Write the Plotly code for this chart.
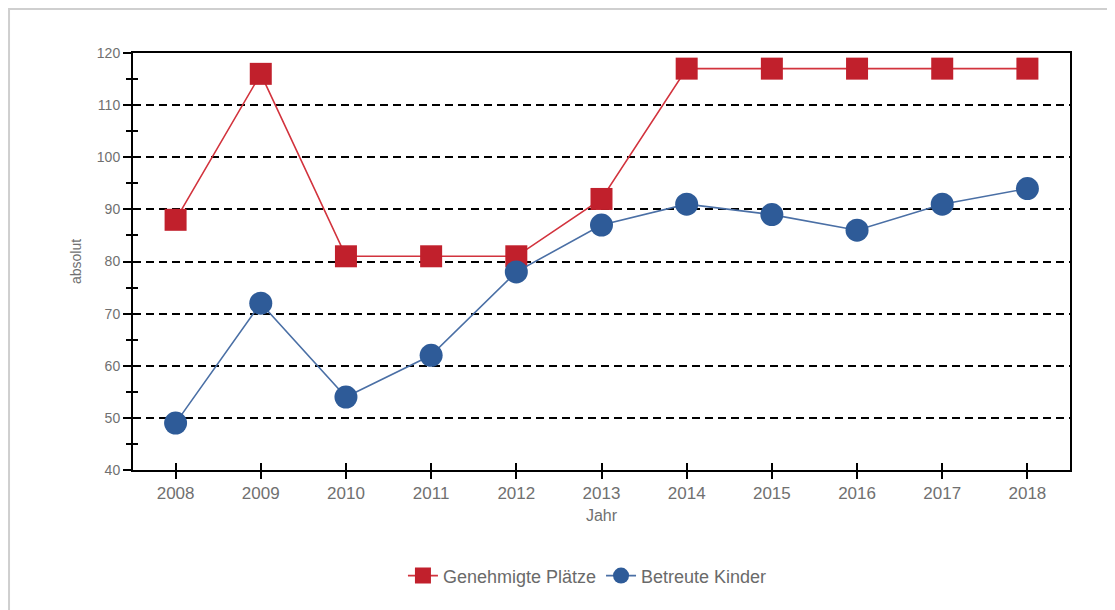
import plotly.graph_objects as go

years = ["2008", "2009", "2010", "2011", "2012", "2013", "2014", "2015", "2016", "2017", "2018"]
genehmigte = [88, 116, 81, 81, 81, 92, 117, 117, 117, 117, 117]
betreute = [49, 72, 54, 62, 78, 87, 91, 89, 86, 91, 94]
y_ticks = [40, 50, 60, 70, 80, 90, 100, 110, 120]
y_minor = [45, 55, 65, 75, 85, 95, 105, 115]

RED = "#C1202C"
BLUE = "#2E5B98"
GRAY = "#707070"
FONT = "Liberation Sans, Arial, sans-serif"

fig = go.Figure()
fig.add_trace(go.Scatter(
    x=years, y=genehmigte, name="Genehmigte Plätze", mode="lines+markers",
    line=dict(color="#D2333D", width=1.6),
    marker=dict(symbol="square", size=22, color=RED),
))
fig.add_trace(go.Scatter(
    x=years, y=betreute, name="Betreute Kinder", mode="lines+markers",
    line=dict(color="#4A6FA5", width=1.6),
    marker=dict(symbol="circle", size=23, color=BLUE),
))
# invisible trace to activate overlay axes (inside-tick halves)
fig.add_trace(go.Scatter(x=years, y=genehmigte, xaxis="x2", yaxis="y2",
                         mode="none", showlegend=False, hoverinfo="skip"))

fig.update_layout(
    width=1115, height=610,
    margin=dict(l=125, r=53, t=45, b=148),
    paper_bgcolor="white", plot_bgcolor="white",
    font=dict(family=FONT, size=14, color=GRAY),
    showlegend=True,
    legend=dict(orientation="h", x=0.485, xanchor="center", y=-0.254, yanchor="middle",
                font=dict(size=18, color="#6a6a6a")),
    xaxis=dict(
        type="category", range=[-0.5, 10.5],
        showline=True, linecolor="black", linewidth=2, mirror=True,
        ticks="outside", ticklen=7, tickwidth=2, tickcolor="black",
        showgrid=False, zeroline=False,
        tickfont=dict(size=17, color=GRAY),
        title=dict(text="Jahr", font=dict(size=16, color=GRAY), standoff=7),
    ),
    yaxis=dict(
        range=[40, 120], tickvals=y_ticks,
        showline=True, linecolor="black", linewidth=2, mirror=True,
        ticks="outside", ticklen=8, tickwidth=2, tickcolor="black",
        minor=dict(ticks="outside", ticklen=5, tickwidth=2, tickcolor="black",
                   tickvals=y_minor, showgrid=False),
        showgrid=True, gridcolor="black", gridwidth=2, griddash="8px,5px",
        zeroline=False,
        tickfont=dict(size=14, color=GRAY),
        title=dict(text="absolut", font=dict(size=14, color=GRAY), standoff=12),
    ),
    xaxis2=dict(
        type="category", range=[-0.5, 10.5], overlaying="x", anchor="y2",
        ticks="inside", ticklen=7, tickwidth=2, tickcolor="black",
        showticklabels=False, showgrid=False, zeroline=False, showline=False,
        categoryarray=years,
    ),
    yaxis2=dict(
        range=[40, 120], overlaying="y", anchor="x2",
        tickvals=[], showticklabels=False, showgrid=False, zeroline=False, showline=False,
        minor=dict(ticks="inside", ticklen=5, tickwidth=2, tickcolor="black",
                   tickvals=y_minor, showgrid=False),
    ),
    shapes=[dict(type="rect", xref="paper", yref="paper",
                 x0=-0.1323, x1=1.07, y0=-0.40, y1=1.1055,
                 line=dict(color="#cfcfcf", width=2), layer="below")],
)

fig.write_html("out.html")
